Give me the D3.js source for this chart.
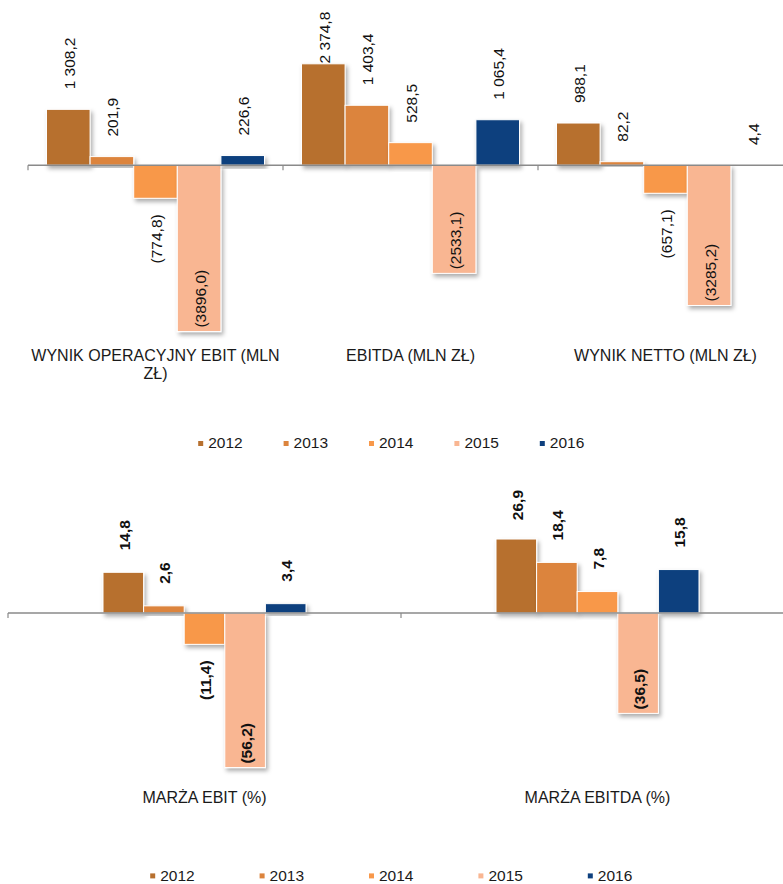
<!DOCTYPE html>
<html>
<head>
<meta charset="utf-8">
<script src="https://cdn.jsdelivr.net/npm/d3@7"></script>
<style>
  html, body { margin: 0; padding: 0; background: #fff; }
  svg, svg text { font-family: Arial, "Liberation Sans", Arimo, Helvetica, sans-serif; }
  svg { display: block; }
</style>
</head>
<body>
<svg id="chart" width="783" height="884"></svg>
<script>
// ---------- DATA ----------
const years = ["2012", "2013", "2014", "2015", "2016"];
const yearColors = ["#B7702F", "#DC843D", "#F8984A", "#F9B692", "#0E407E"];
// label placement per series (2015 series labels at "inside end")
const labelPlacement = ["outside", "outside", "outside", "inside", "outside"];

const topCategories = ["WYNIK OPERACYJNY EBIT (MLN ZŁ)", "EBITDA (MLN ZŁ)", "WYNIK NETTO (MLN ZŁ)"];
const top2012 = [1308.2, 2374.8, 988.1];
const top2013 = [201.9, 1403.4, 82.2];
const top2014 = [-774.8, 528.5, -657.1];
const top2015 = [-3896.0, -2533.1, -3285.2];
const top2016 = [226.6, 1065.4, 4.4];

const bottomCategories = ["MARŻA EBIT (%)", "MARŻA EBITDA (%)"];
const bottom2012 = [14.8, 26.9];
const bottom2013 = [2.6, 18.4];
const bottom2014 = [-11.4, 7.8];
const bottom2015 = [-56.2, -36.5];
const bottom2016 = [3.4, 15.8];

// ---------- FORMAT ----------
const loc = d3.formatLocale({ decimal: ",", thousands: " ", grouping: [3], currency: ["", ""] });
const fmtPos = loc.format(",.1f");
const fmtNeg = loc.format(".1f");
const fmt = v => v < 0 ? "(" + fmtNeg(-v) + ")" : fmtPos(v);

const FONT = 'Arial, "Liberation Sans", Arimo, Helvetica, sans-serif';
const svg = d3.select("#chart").attr("font-family", FONT);
const W = 783;

// shadow filter
const defs = svg.append("defs");
const f = defs.append("filter").attr("id", "shadow").attr("x", "-20%").attr("y", "-20%").attr("width", "150%").attr("height", "150%");
f.append("feDropShadow").attr("dx", 2).attr("dy", 3).attr("stdDeviation", 2)
  .attr("flood-color", "#000").attr("flood-opacity", 0.32);

function wrapLines(text, maxW, fontSize) {
  const tmp = svg.append("text").attr("font-family", FONT).style("font-size", fontSize + "px");
  const words = text.split(" ");
  const lines = [];
  let cur = "";
  words.forEach(w => {
    const test = cur ? cur + " " + w : w;
    tmp.text(test);
    if (tmp.node().getComputedTextLength() > maxW && cur) {
      lines.push(cur);
      cur = w;
    } else cur = test;
  });
  if (cur) lines.push(cur);
  tmp.remove();
  return lines;
}

function drawPanel(o) {
  const g = svg.append("g");
  const nCat = o.categories.length;
  const x0 = d3.scaleBand().domain(o.categories)
    .range([o.left, o.left + o.catWidth * nCat]).paddingInner(0).paddingOuter(0);
  const x1 = d3.scaleBand().domain(years)
    .range([0, x0.bandwidth()]).paddingInner(0).paddingOuter(o.padOuter);
  const y = d3.scaleLinear().domain(o.yDomain).range(o.yRange);

  const data = o.categories.flatMap((c, i) =>
    years.map((yr, j) => ({ c, yr, j, v: o.series[j][i] })));

  // bars
  g.append("g").selectAll("rect").data(data).join("rect")
    .attr("x", d => x0(d.c) + x1(d.yr))
    .attr("width", x1.bandwidth())
    .attr("y", d => y(Math.max(0, d.v)))
    .attr("height", d => Math.abs(y(d.v) - y(0)))
    .attr("fill", d => yearColors[d.j])
    .attr("stroke", "#fff")
    .attr("stroke-width", 1)
    .attr("filter", "url(#shadow)");

  // axis line + ticks at category boundaries
  const y0 = y(0);
  g.append("line")
    .attr("x1", o.left).attr("x2", W)
    .attr("y1", y0).attr("y2", y0)
    .attr("stroke", "#8a8a8a").attr("stroke-width", 1.5);
  const bounds = o.categories.map(c => x0(c)).concat([x0.range()[1]]);
  g.append("g").selectAll("line").data(bounds).join("line")
    .attr("x1", d => d).attr("x2", d => d)
    .attr("y1", y0).attr("y2", y0 + 5)
    .attr("stroke", "#8a8a8a").attr("stroke-width", 1.2);

  // labels
  const lbl = g.append("g").selectAll("text").data(data).join("text")
    .attr("font-family", FONT)
    .style("font-size", o.labelSize + "px")
    .style("font-weight", o.bold ? "bold" : "normal")
    .attr("fill", "#111")
    .attr("dy", "0.35em")
    .text(d => fmt(d.v));
  lbl.each(function (d) {
    const len = this.getComputedTextLength();
    const cx = x0(d.c) + x1(d.yr) + x1.bandwidth() / 2 + 1;
    let ay, anchor;
    const inside = labelPlacement[d.j] === "inside";
    if (d.v >= 0) {
      if (inside) { ay = y(d.v) + o.inset; anchor = "end"; }
      else { ay = Math.max(y(d.v) - o.gapPos, o.labelMinTop + len); anchor = "start"; }
    } else {
      if (inside) { ay = y(d.v) - o.inset; anchor = "start"; }
      else { ay = y(d.v) + o.gapNeg; anchor = "end"; }
    }
    d3.select(this).attr("text-anchor", anchor)
      .attr("transform", `translate(${cx},${ay}) rotate(-90)`);
  });

  // category titles
  o.categories.forEach(c => {
    const lines = wrapLines(c, o.catWidth, o.titleSize);
    const cx = x0(c) + x0.bandwidth() / 2;
    const t = g.append("text")
      .attr("x", cx)
      .attr("y", o.titleY)
      .attr("text-anchor", "middle")
      .attr("font-family", FONT)
      .style("font-size", o.titleSize + "px")
      .attr("fill", "#1a1a1a");
    lines.forEach((ln, k) => {
      t.append("tspan").attr("x", cx)
        .attr("dy", k === 0 ? 0 : o.titleLineH).text(ln);
    });
  });

  // legend
  const itemW = 5 + 5 + 35;
  const totalW = (years.length - 1) * o.legendSpacing + itemW;
  const lx = (W - totalW) / 2;
  const lg = g.append("g");
  years.forEach((yr, j) => {
    const ix = lx + j * o.legendSpacing;
    lg.append("rect").attr("x", ix).attr("y", o.legendY - 7.3)
      .attr("width", 5).attr("height", 5).attr("fill", yearColors[j]);
    lg.append("text").attr("x", ix + 10).attr("y", o.legendY)
      .attr("font-family", FONT)
      .style("font-size", o.legendSize + "px").attr("fill", "#1a1a1a").text(yr);
  });
}

// ---------- TOP PANEL ----------
drawPanel({
  categories: topCategories,
  series: [top2012, top2013, top2014, top2015, top2016],
  left: 28, catWidth: 255, padOuter: 0.424,
  yDomain: [-4000, 3600], yRange: [336, 11.5],
  labelSize: 15.5, bold: false,
  gapPos: 20, gapNeg: 16, inset: 4, labelMinTop: 11.7,
  titleY: 360.7, titleSize: 16, titleLineH: 18.6,
  legendY: 448.3, legendSpacing: 85.4, legendSize: 15.5
});

// ---------- BOTTOM PANEL ----------
drawPanel({
  categories: bottomCategories,
  series: [bottom2012, bottom2013, bottom2014, bottom2015, bottom2016],
  left: 8, catWidth: 393, padOuter: 2.34,
  yDomain: [-60, 40], yRange: [778, 503],
  labelSize: 15.5, bold: true,
  gapPos: 22, gapNeg: 16, inset: 4, labelMinTop: 490,
  titleY: 803.3, titleSize: 16, titleLineH: 18.6,
  legendY: 880.7, legendSpacing: 109.4, legendSize: 15.5
});
</script>
</body>
</html>
